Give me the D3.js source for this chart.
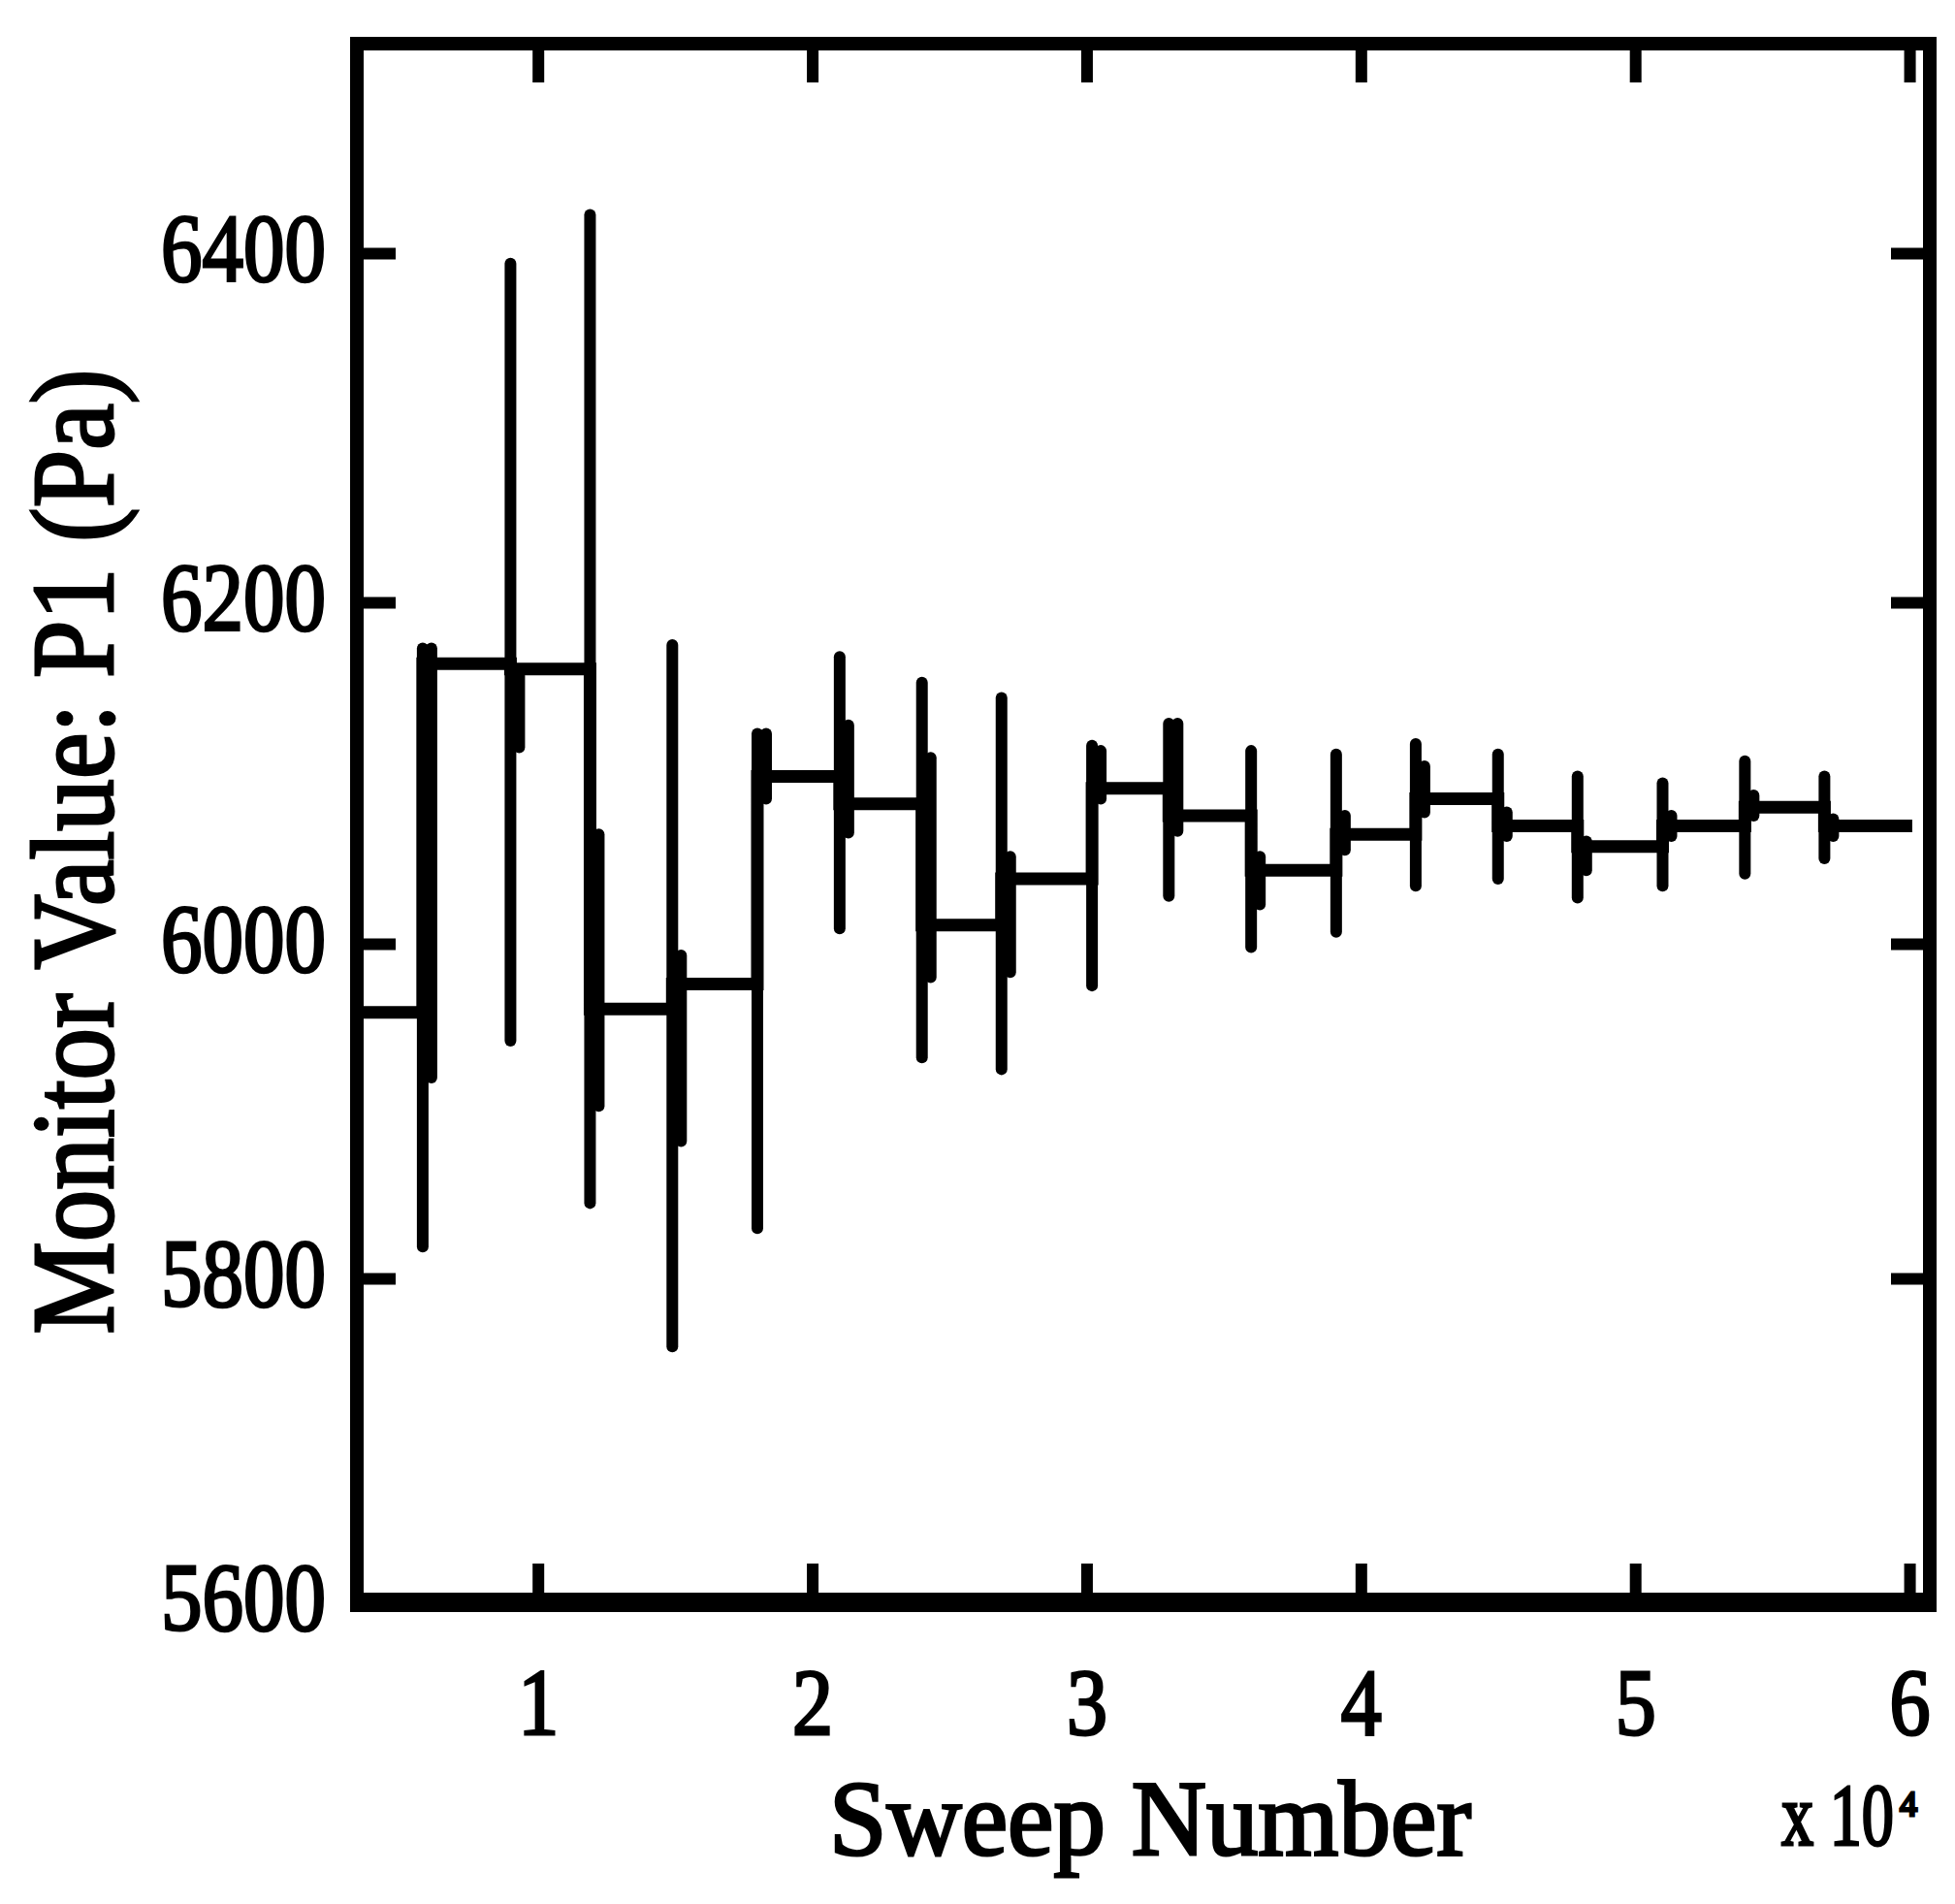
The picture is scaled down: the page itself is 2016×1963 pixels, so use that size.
<!DOCTYPE html>
<html>
<head>
<meta charset="utf-8">
<script src="https://cdn.jsdelivr.net/npm/d3@7/dist/d3.min.js"></script>
<style>
    html, body { margin: 0; padding: 0; background: #fff; }
    svg { display: block; }
    text { font-family: "Liberation Serif", "Times New Roman", serif; fill: #000; stroke: #000; stroke-width: 3px; }
</style>
</head>
<body>
<svg id="chart" width="2016" height="1963"></svg>
<script>
// sweep number (x 10^4) where the monitored value switches level
const switchX = [0.58, 0.90, 1.19, 1.49, 1.80, 2.10, 2.40, 2.69, 3.02, 3.30, 3.60, 3.91, 4.20, 4.50, 4.79, 5.10, 5.40, 5.69];
// plateau levels (Pa), one more than the switches
const levels = [5959, 6164, 6161, 5961, 5976, 6098, 6082, 6011, 6038, 6091, 6075, 6043, 6064, 6085, 6069, 6057, 6069, 6080, 6069];
const startX = 0.34;
const endX = 6.01;
// spike extremes at each switch
const spikeHi = [6173, 6394, 6422, 6175, 6123, 6168, 6153, 6144, 6116, 6129, 6113, 6111, 6117, 6111, 6098, 6094, 6107, 6098];
const spikeLo = [5819, 5942, 5845, 5758, 5830, 6009, 5932, 5925, 5975, 6028, 5998, 6007, 6034, 6038, 6027, 6034, 6041, 6050];
// thicker ringing band right after each switch
const ringHi = [6173, 6157, 6064, 5993, 6123, 6128, 6109, 6051, 6113, 6129, 6051, 6075, 6104, 6077, 6060, 6075, 6087, 6073];
const ringLo = [5920, 6115, 5903, 5882, 6085, 6065, 5980, 5983, 6085, 6066, 6023, 6055, 6077, 6063, 6043, 6063, 6075, 6063];

const xTicks = [1, 2, 3, 4, 5, 6];
const yTicks = [5600, 5800, 6000, 6200, 6400];

const svg = d3.select("#chart");

const x = d3.scaleLinear().domain([0.34, 6.074]).range([368, 1990]);
// piecewise to follow the slightly uneven tick spacing of the scanned axis
const y = d3.scaleLinear()
    .domain([5600, 5800, 6000, 6200, 6400, 6520])
    .range([1652, 1318, 973, 621, 261, 45]);

const plotLeft = 368, plotRight = 1990;
const plotTop = 45, plotBottom = 1652;

// ---- data ----
const steps = [];
levels.forEach((lv, i) => {
    const x0 = i === 0 ? startX : switchX[i - 1];
    const x1 = i === levels.length - 1 ? endX : switchX[i];
    steps.push([x0, lv], [x1, lv]);
});

svg.append("path")
    .datum(steps)
    .attr("fill", "none")
    .attr("stroke", "#000")
    .attr("stroke-width", 13)
    .attr("stroke-linejoin", "miter")
    .attr("d", d3.line().x(d => x(d[0])).y(d => y(d[1])));

svg.append("g").selectAll("line")
    .data(switchX)
    .join("line")
    .attr("x1", d => x(d)).attr("x2", d => x(d))
    .attr("y1", (d, i) => y(spikeHi[i]))
    .attr("y2", (d, i) => y(spikeLo[i]))
    .attr("stroke", "#000")
    .attr("stroke-width", 12)
    .attr("stroke-linecap", "round");

svg.append("g").selectAll("line")
    .data(switchX)
    .join("line")
    .attr("x1", d => x(d) + 9).attr("x2", d => x(d) + 9)
    .attr("y1", (d, i) => y(ringHi[i]))
    .attr("y2", (d, i) => y(ringLo[i]))
    .attr("stroke", "#000")
    .attr("stroke-width", 12)
    .attr("stroke-linecap", "round");

// ---- axes (ticks pointing inward) ----
function styleAxis(g) {
    g.select(".domain").remove();
    g.selectAll(".tick line").attr("stroke", "#000").attr("stroke-width", 12);
}

svg.append("g")
    .attr("transform", `translate(0,${plotBottom})`)
    .call(d3.axisBottom(x).tickValues(xTicks).tickSize(-40).tickFormat(d3.format("d")))
    .call(styleAxis)
    .call(g => g.selectAll(".tick text")
        .attr("y", 136).attr("dy", null)
        .attr("font-size", 98)
        .attr("textLength", 42).attr("lengthAdjust", "spacingAndGlyphs"));

svg.append("g")
    .attr("transform", `translate(0,${plotTop})`)
    .call(d3.axisTop(x).tickValues(xTicks).tickSize(-40).tickFormat(""))
    .call(styleAxis);

svg.append("g")
    .attr("transform", `translate(${plotLeft},0)`)
    .call(d3.axisLeft(y).tickValues(yTicks).tickSize(-40).tickPadding(32).tickFormat(d3.format("d")))
    .call(styleAxis)
    .call(g => g.selectAll(".tick text")
        .attr("dy", "0.27em")
        .attr("font-size", 100)
        .attr("textLength", 170).attr("lengthAdjust", "spacingAndGlyphs"));

svg.append("g")
    .attr("transform", `translate(${plotRight},0)`)
    .call(d3.axisRight(y).tickValues(yTicks).tickSize(-40).tickFormat(""))
    .call(styleAxis);

// frame
svg.append("rect")
    .attr("x", plotLeft).attr("y", plotTop)
    .attr("width", plotRight - plotLeft).attr("height", plotBottom - plotTop)
    .attr("fill", "none")
    .attr("stroke", "#000")
    .attr("stroke-width", 14);
svg.append("line")
    .attr("x1", plotLeft - 7).attr("x2", plotRight + 7)
    .attr("y1", plotBottom).attr("y2", plotBottom)
    .attr("stroke", "#000")
    .attr("stroke-width", 20);

// ---- labels ----
svg.append("text")
    .attr("x", 1186).attr("y", 1912)
    .attr("text-anchor", "middle")
    .attr("font-size", 110)
    .attr("textLength", 662).attr("lengthAdjust", "spacingAndGlyphs")
    .text("Sweep Number");

// exponent label, one text element with a raised "4"
const expLabel = svg.append("text")
    .attr("x", 1837).attr("y", 1902);
expLabel.append("tspan")
    .attr("font-size", 92)
    .attr("textLength", 116).attr("lengthAdjust", "spacingAndGlyphs")
    .text("x 10");
expLabel.append("tspan")
    .attr("font-size", 36)
    .attr("dx", 6).attr("dy", -30)
    .text("4");

svg.append("text")
    .attr("transform", "translate(116,878) rotate(-90)")
    .attr("text-anchor", "middle")
    .attr("font-size", 120)
    .attr("textLength", 995).attr("lengthAdjust", "spacingAndGlyphs")
    .text("Monitor Value: P1 (Pa)");
</script>
</body>
</html>
